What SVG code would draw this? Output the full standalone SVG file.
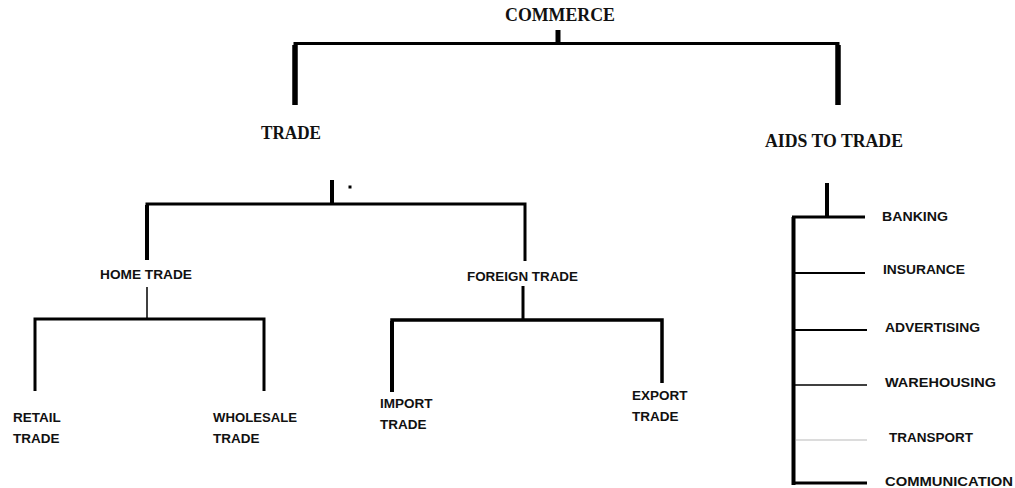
<svg xmlns="http://www.w3.org/2000/svg" width="1015" height="488" viewBox="0 0 1015 488">
<style>
.bg{fill:#fff}
.h1{font-family:"Liberation Serif","Times New Roman",serif;font-weight:bold;font-size:18px;fill:#111}
.lb{font-family:"Liberation Sans",Arial,sans-serif;font-weight:bold;font-size:13.5px;fill:#111}
.ln{stroke:#000;fill:none;stroke-linejoin:miter;stroke-linecap:butt}
</style>
<rect class="bg" x="0" y="0" width="1015" height="488"/>
<g id="connectors">
  <!-- commerce -->
  <line class="ln" x1="558" y1="30" x2="558" y2="44" stroke-width="5"/>
  <polyline class="ln" points="295,105 295,43.5 838,43.5 838,105" stroke-width="3"/>
  <line class="ln" x1="295" y1="45" x2="295" y2="105" stroke-width="5.5"/>
  <line class="ln" x1="838" y1="45" x2="838" y2="105" stroke-width="5.5"/>
  <!-- trade -->
  <line class="ln" x1="332" y1="180" x2="332" y2="205" stroke-width="4"/>
  <rect x="348.5" y="185.5" width="3" height="3" fill="#000"/>
  <polyline class="ln" points="147,260 147,204 525,204 525,261" stroke-width="3"/>
  <line class="ln" x1="147" y1="205" x2="147" y2="260" stroke-width="4"/>
  <!-- home trade -->
  <line class="ln" x1="147" y1="287" x2="147" y2="319" stroke-width="1.5"/>
  <polyline class="ln" points="35,391 35,319 264,319 264,391" stroke-width="3"/>
  <!-- foreign trade -->
  <line class="ln" x1="523" y1="286" x2="523" y2="320" stroke-width="3"/>
  <polyline class="ln" points="392,392 392,320 662,320 662,383" stroke-width="3.5"/>
  <line class="ln" x1="392" y1="321" x2="392" y2="392" stroke-width="4"/>
  <!-- aids to trade -->
  <line class="ln" x1="827" y1="183" x2="827" y2="216" stroke-width="4"/>
  <line class="ln" x1="793.5" y1="217" x2="793.5" y2="485" stroke-width="4"/>
  <line class="ln" x1="792" y1="217" x2="865" y2="217" stroke-width="3"/>
  <line class="ln" x1="794" y1="273" x2="865" y2="273" stroke-width="2"/>
  <line class="ln" x1="794" y1="330" x2="867" y2="330" stroke-width="2"/>
  <line class="ln" x1="794" y1="385" x2="867" y2="385" stroke-width="1.3"/>
  <line x1="796" y1="440" x2="867" y2="440" stroke="#d0d0d0" stroke-width="1.5"/>
  <line class="ln" x1="792" y1="483" x2="867" y2="483" stroke-width="3"/>
</g>
<g id="commerce"><text class="h1" x="505" y="21" textLength="110" lengthAdjust="spacingAndGlyphs">COMMERCE</text></g>
<g id="trade"><text class="h1" x="261" y="139" textLength="60" lengthAdjust="spacingAndGlyphs">TRADE</text></g>
<g id="aids-to-trade"><text class="h1" x="765" y="147" textLength="138" lengthAdjust="spacingAndGlyphs">AIDS TO TRADE</text></g>
<g id="home-trade"><text class="lb" x="100" y="279" textLength="92" lengthAdjust="spacingAndGlyphs">HOME TRADE</text></g>
<g id="foreign-trade"><text class="lb" x="467" y="281" textLength="111" lengthAdjust="spacingAndGlyphs">FOREIGN TRADE</text></g>
<g id="retail-trade"><text class="lb" x="13" y="422">RETAIL</text><text class="lb" x="13" y="443">TRADE</text></g>
<g id="wholesale-trade"><text class="lb" x="213" y="422" textLength="84" lengthAdjust="spacingAndGlyphs">WHOLESALE</text><text class="lb" x="213" y="443">TRADE</text></g>
<g id="import-trade"><text class="lb" x="380" y="408">IMPORT</text><text class="lb" x="380" y="429">TRADE</text></g>
<g id="export-trade"><text class="lb" x="632" y="400">EXPORT</text><text class="lb" x="632" y="421">TRADE</text></g>
<g id="banking"><text class="lb" x="882" y="221" textLength="66" lengthAdjust="spacingAndGlyphs">BANKING</text></g>
<g id="insurance"><text class="lb" x="883" y="274" textLength="82" lengthAdjust="spacingAndGlyphs">INSURANCE</text></g>
<g id="advertising"><text class="lb" x="885" y="332" textLength="95" lengthAdjust="spacingAndGlyphs">ADVERTISING</text></g>
<g id="warehousing"><text class="lb" x="885" y="387" textLength="111" lengthAdjust="spacingAndGlyphs">WAREHOUSING</text></g>
<g id="transport"><text class="lb" x="889" y="442" textLength="84" lengthAdjust="spacingAndGlyphs">TRANSPORT</text></g>
<g id="communication"><text class="lb" x="885" y="486" textLength="128" lengthAdjust="spacingAndGlyphs">COMMUNICATION</text></g>
</svg>
